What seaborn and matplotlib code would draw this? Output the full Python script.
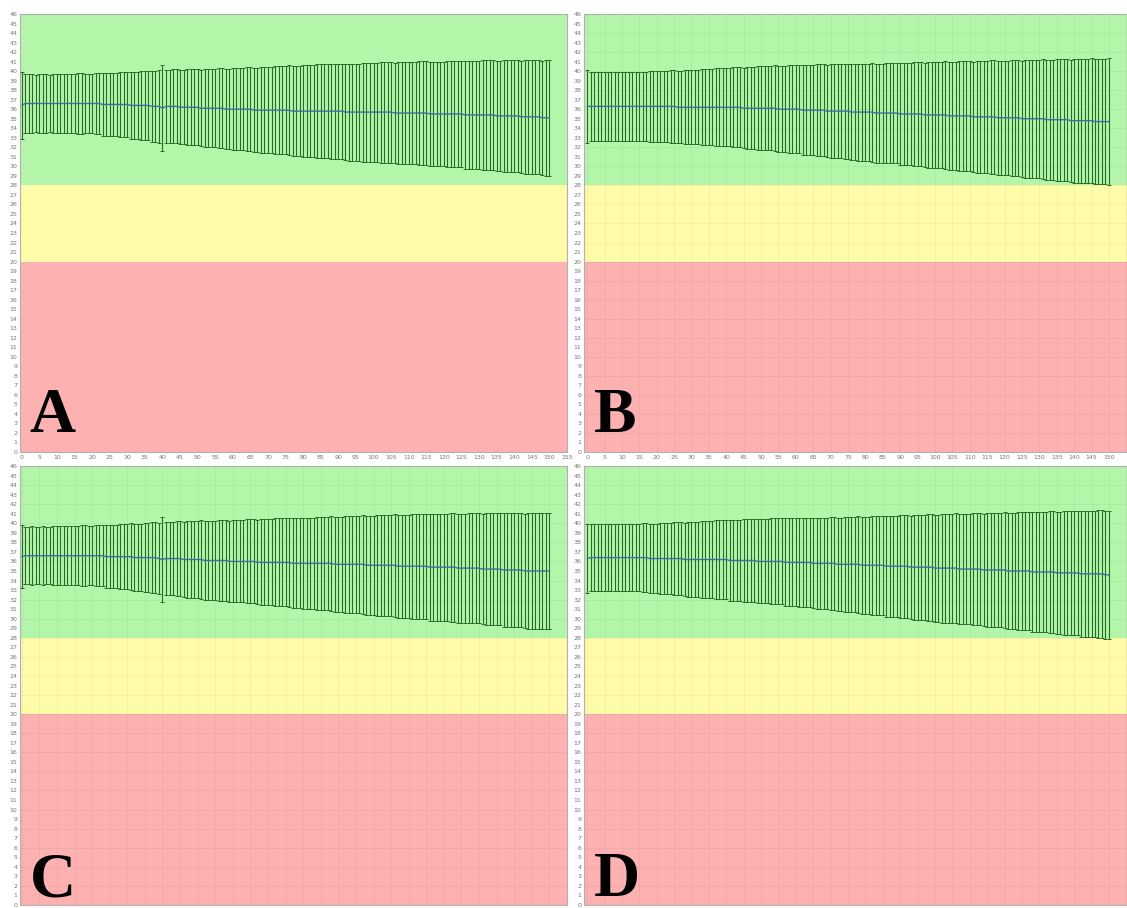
import numpy as np
import matplotlib
matplotlib.use("Agg")
import matplotlib.pyplot as plt
import seaborn as sns

# x positions of the bars (one per unit, 0..150)
x_vals = list(range(0, 151))

# ---- panel A: mean and half-width of each bar ----
a_mean = [
    36.4,
    36.6, 36.6, 36.6, 36.6, 36.6, 36.6, 36.6, 36.6, 36.6, 36.6,
    36.6, 36.6, 36.6, 36.6, 36.6, 36.6, 36.6, 36.6, 36.6, 36.6,
    36.6, 36.6, 36.5, 36.5, 36.5, 36.5, 36.5, 36.5, 36.5, 36.5,
    36.4, 36.4, 36.4, 36.4, 36.4, 36.4, 36.3, 36.3, 36.3, 36.1,
    36.3, 36.3, 36.3, 36.3, 36.2, 36.2, 36.2, 36.2, 36.2, 36.2,
    36.1, 36.1, 36.1, 36.1, 36.1, 36.1, 36.1, 36.0, 36.0, 36.0,
    36.0, 36.0, 36.0, 36.0, 36.0, 35.9, 35.9, 35.9, 35.9, 35.9,
    35.9, 35.9, 35.9, 35.9, 35.9, 35.9, 35.8, 35.8, 35.8, 35.8,
    35.8, 35.8, 35.8, 35.8, 35.8, 35.8, 35.8, 35.8, 35.8, 35.8,
    35.8, 35.7, 35.7, 35.7, 35.7, 35.7, 35.7, 35.7, 35.7, 35.7,
    35.7, 35.7, 35.7, 35.7, 35.7, 35.6, 35.6, 35.6, 35.6, 35.6,
    35.6, 35.6, 35.6, 35.6, 35.6, 35.5, 35.5, 35.5, 35.5, 35.5,
    35.5, 35.5, 35.5, 35.5, 35.5, 35.4, 35.4, 35.4, 35.4, 35.4,
    35.4, 35.4, 35.4, 35.4, 35.3, 35.3, 35.3, 35.3, 35.3, 35.3,
    35.3, 35.2, 35.2, 35.2, 35.2, 35.2, 35.2, 35.1, 35.1, 35.1,
]
a_sd = [
    3.5,
    3.1, 3.1, 3.1, 3.0, 3.1, 3.1, 3.1, 3.0, 3.1, 3.1,
    3.1, 3.1, 3.1, 3.1, 3.1, 3.2, 3.2, 3.1, 3.1, 3.1,
    3.2, 3.2, 3.3, 3.3, 3.3, 3.3, 3.3, 3.4, 3.4, 3.4,
    3.5, 3.5, 3.5, 3.6, 3.6, 3.6, 3.7, 3.7, 3.8, 4.5,
    3.8, 3.8, 3.9, 3.9, 3.9, 3.9, 4.0, 4.0, 4.0, 4.0,
    4.0, 4.1, 4.1, 4.1, 4.1, 4.2, 4.2, 4.2, 4.2, 4.3,
    4.3, 4.3, 4.3, 4.4, 4.4, 4.4, 4.4, 4.5, 4.5, 4.5,
    4.5, 4.6, 4.6, 4.6, 4.6, 4.7, 4.7, 4.7, 4.7, 4.8,
    4.8, 4.8, 4.8, 4.9, 4.9, 4.9, 4.9, 5.0, 5.0, 5.0,
    5.0, 5.0, 5.1, 5.1, 5.1, 5.1, 5.2, 5.2, 5.2, 5.2,
    5.2, 5.3, 5.3, 5.3, 5.3, 5.3, 5.4, 5.4, 5.4, 5.4,
    5.4, 5.4, 5.5, 5.5, 5.5, 5.5, 5.5, 5.5, 5.5, 5.5,
    5.6, 5.6, 5.6, 5.6, 5.6, 5.7, 5.7, 5.7, 5.7, 5.7,
    5.8, 5.8, 5.8, 5.8, 5.8, 5.8, 5.9, 5.9, 5.9, 5.9,
    5.9, 5.9, 6.0, 6.0, 6.0, 6.0, 6.0, 6.0, 6.1, 6.1,
]

# ---- panel B ----
b_mean = [
    36.3,
    36.3, 36.3, 36.3, 36.3, 36.3, 36.3, 36.3, 36.3, 36.3, 36.3,
    36.3, 36.3, 36.3, 36.3, 36.3, 36.3, 36.3, 36.3, 36.3, 36.3,
    36.3, 36.3, 36.3, 36.3, 36.3, 36.2, 36.2, 36.2, 36.2, 36.2,
    36.2, 36.2, 36.2, 36.2, 36.2, 36.2, 36.2, 36.2, 36.2, 36.2,
    36.2, 36.2, 36.2, 36.2, 36.1, 36.1, 36.1, 36.1, 36.1, 36.1,
    36.1, 36.1, 36.1, 36.1, 36.0, 36.0, 36.0, 36.0, 36.0, 36.0,
    36.0, 35.9, 35.9, 35.9, 35.9, 35.9, 35.9, 35.9, 35.8, 35.8,
    35.8, 35.8, 35.8, 35.8, 35.8, 35.7, 35.7, 35.7, 35.7, 35.7,
    35.7, 35.7, 35.6, 35.6, 35.6, 35.6, 35.6, 35.6, 35.6, 35.5,
    35.5, 35.5, 35.5, 35.5, 35.5, 35.5, 35.4, 35.4, 35.4, 35.4,
    35.4, 35.4, 35.4, 35.3, 35.3, 35.3, 35.3, 35.3, 35.3, 35.3,
    35.2, 35.2, 35.2, 35.2, 35.2, 35.2, 35.2, 35.1, 35.1, 35.1,
    35.1, 35.1, 35.1, 35.1, 35.0, 35.0, 35.0, 35.0, 35.0, 35.0,
    35.0, 34.9, 34.9, 34.9, 34.9, 34.9, 34.9, 34.9, 34.8, 34.8,
    34.8, 34.8, 34.8, 34.8, 34.8, 34.7, 34.7, 34.7, 34.7, 34.7,
]
b_sd = [
    3.8,
    3.6, 3.6, 3.6, 3.6, 3.6, 3.6, 3.6, 3.6, 3.6, 3.6,
    3.6, 3.6, 3.6, 3.6, 3.6, 3.6, 3.6, 3.7, 3.7, 3.7,
    3.7, 3.7, 3.7, 3.8, 3.8, 3.8, 3.8, 3.9, 3.9, 3.9,
    3.9, 3.9, 4.0, 4.0, 4.0, 4.0, 4.1, 4.1, 4.1, 4.1,
    4.1, 4.2, 4.2, 4.2, 4.2, 4.3, 4.3, 4.3, 4.4, 4.4,
    4.4, 4.4, 4.4, 4.5, 4.5, 4.5, 4.5, 4.6, 4.6, 4.6,
    4.6, 4.7, 4.7, 4.7, 4.7, 4.8, 4.8, 4.8, 4.8, 4.9,
    4.9, 4.9, 4.9, 5.0, 5.0, 5.0, 5.0, 5.1, 5.1, 5.1,
    5.1, 5.2, 5.2, 5.2, 5.2, 5.3, 5.3, 5.3, 5.3, 5.4,
    5.4, 5.4, 5.4, 5.5, 5.5, 5.5, 5.5, 5.6, 5.6, 5.6,
    5.6, 5.6, 5.7, 5.7, 5.7, 5.7, 5.8, 5.8, 5.8, 5.8,
    5.8, 5.9, 5.9, 5.9, 5.9, 6.0, 6.0, 6.0, 6.0, 6.0,
    6.0, 6.1, 6.1, 6.1, 6.1, 6.2, 6.2, 6.2, 6.2, 6.2,
    6.3, 6.3, 6.3, 6.3, 6.4, 6.4, 6.4, 6.4, 6.4, 6.5,
    6.5, 6.5, 6.5, 6.5, 6.6, 6.6, 6.6, 6.6, 6.6, 6.7,
]

# ---- panel C ----
c_mean = [
    36.5,
    36.6, 36.6, 36.6, 36.6, 36.6, 36.6, 36.6, 36.6, 36.6, 36.6,
    36.6, 36.6, 36.6, 36.6, 36.6, 36.6, 36.6, 36.6, 36.6, 36.6,
    36.6, 36.6, 36.6, 36.5, 36.5, 36.5, 36.5, 36.5, 36.5, 36.5,
    36.5, 36.4, 36.4, 36.4, 36.4, 36.4, 36.4, 36.4, 36.3, 36.2,
    36.3, 36.3, 36.3, 36.3, 36.3, 36.2, 36.2, 36.2, 36.2, 36.2,
    36.2, 36.1, 36.1, 36.1, 36.1, 36.1, 36.1, 36.1, 36.0, 36.0,
    36.0, 36.0, 36.0, 36.0, 36.0, 36.0, 35.9, 35.9, 35.9, 35.9,
    35.9, 35.9, 35.9, 35.9, 35.9, 35.9, 35.8, 35.8, 35.8, 35.8,
    35.8, 35.8, 35.8, 35.8, 35.8, 35.8, 35.8, 35.8, 35.7, 35.7,
    35.7, 35.7, 35.7, 35.7, 35.7, 35.7, 35.7, 35.6, 35.6, 35.6,
    35.6, 35.6, 35.6, 35.6, 35.6, 35.6, 35.5, 35.5, 35.5, 35.5,
    35.5, 35.5, 35.5, 35.5, 35.5, 35.4, 35.4, 35.4, 35.4, 35.4,
    35.4, 35.4, 35.4, 35.3, 35.3, 35.3, 35.3, 35.3, 35.3, 35.3,
    35.2, 35.2, 35.2, 35.2, 35.2, 35.2, 35.1, 35.1, 35.1, 35.1,
    35.1, 35.1, 35.0, 35.0, 35.0, 35.0, 35.0, 35.0, 35.0, 35.0,
]
c_sd = [
    3.3,
    3.0, 3.0, 3.1, 3.0, 3.0, 3.1, 3.0, 3.0, 3.1, 3.1,
    3.1, 3.1, 3.1, 3.1, 3.1, 3.1, 3.2, 3.2, 3.1, 3.1,
    3.2, 3.2, 3.2, 3.3, 3.3, 3.3, 3.3, 3.4, 3.4, 3.4,
    3.5, 3.5, 3.5, 3.5, 3.6, 3.6, 3.7, 3.7, 3.7, 4.5,
    3.8, 3.8, 3.8, 3.9, 3.9, 3.9, 4.0, 4.0, 4.0, 4.0,
    4.1, 4.1, 4.1, 4.1, 4.1, 4.2, 4.2, 4.2, 4.2, 4.3,
    4.3, 4.3, 4.3, 4.4, 4.4, 4.4, 4.4, 4.5, 4.5, 4.5,
    4.5, 4.6, 4.6, 4.6, 4.6, 4.7, 4.7, 4.7, 4.7, 4.8,
    4.8, 4.8, 4.8, 4.9, 4.9, 4.9, 4.9, 5.0, 5.0, 5.0,
    5.0, 5.1, 5.1, 5.1, 5.1, 5.1, 5.2, 5.2, 5.2, 5.2,
    5.3, 5.3, 5.3, 5.3, 5.3, 5.4, 5.4, 5.4, 5.4, 5.4,
    5.5, 5.5, 5.5, 5.5, 5.5, 5.6, 5.6, 5.6, 5.6, 5.6,
    5.6, 5.7, 5.7, 5.7, 5.7, 5.7, 5.8, 5.8, 5.8, 5.8,
    5.8, 5.9, 5.9, 5.9, 5.9, 5.9, 6.0, 6.0, 6.0, 6.0,
    6.0, 6.0, 6.0, 6.1, 6.1, 6.1, 6.1, 6.1, 6.1, 6.1,
]

# ---- panel D ----
d_mean = [
    36.3,
    36.4, 36.4, 36.4, 36.4, 36.4, 36.4, 36.4, 36.4, 36.4, 36.4,
    36.4, 36.4, 36.4, 36.4, 36.4, 36.4, 36.4, 36.3, 36.3, 36.3,
    36.3, 36.3, 36.3, 36.3, 36.3, 36.3, 36.3, 36.2, 36.2, 36.2,
    36.2, 36.2, 36.2, 36.2, 36.2, 36.2, 36.2, 36.2, 36.2, 36.2,
    36.1, 36.1, 36.1, 36.1, 36.1, 36.1, 36.1, 36.1, 36.0, 36.0,
    36.0, 36.0, 36.0, 36.0, 36.0, 36.0, 35.9, 35.9, 35.9, 35.9,
    35.9, 35.9, 35.9, 35.9, 35.8, 35.8, 35.8, 35.8, 35.8, 35.8,
    35.8, 35.7, 35.7, 35.7, 35.7, 35.7, 35.7, 35.7, 35.6, 35.6,
    35.6, 35.6, 35.6, 35.6, 35.6, 35.5, 35.5, 35.5, 35.5, 35.5,
    35.5, 35.5, 35.4, 35.4, 35.4, 35.4, 35.4, 35.4, 35.4, 35.3,
    35.3, 35.3, 35.3, 35.3, 35.3, 35.3, 35.2, 35.2, 35.2, 35.2,
    35.2, 35.2, 35.2, 35.1, 35.1, 35.1, 35.1, 35.1, 35.1, 35.1,
    35.0, 35.0, 35.0, 35.0, 35.0, 35.0, 35.0, 34.9, 34.9, 34.9,
    34.9, 34.9, 34.9, 34.9, 34.8, 34.8, 34.8, 34.8, 34.8, 34.8,
    34.8, 34.7, 34.7, 34.7, 34.7, 34.7, 34.7, 34.7, 34.6, 34.6,
]
d_sd = [
    3.6,
    3.5, 3.5, 3.5, 3.5, 3.5, 3.5, 3.5, 3.5, 3.5, 3.5,
    3.5, 3.5, 3.5, 3.5, 3.5, 3.6, 3.6, 3.6, 3.6, 3.6,
    3.7, 3.7, 3.7, 3.7, 3.8, 3.8, 3.8, 3.8, 3.9, 3.9,
    3.9, 3.9, 4.0, 4.0, 4.0, 4.0, 4.1, 4.1, 4.1, 4.1,
    4.2, 4.2, 4.2, 4.2, 4.3, 4.3, 4.3, 4.3, 4.4, 4.4,
    4.4, 4.4, 4.5, 4.5, 4.5, 4.5, 4.6, 4.6, 4.6, 4.6,
    4.7, 4.7, 4.7, 4.7, 4.7, 4.8, 4.8, 4.8, 4.8, 4.9,
    4.9, 4.9, 4.9, 5.0, 5.0, 5.0, 5.0, 5.1, 5.1, 5.1,
    5.1, 5.2, 5.2, 5.2, 5.2, 5.3, 5.3, 5.3, 5.3, 5.4,
    5.4, 5.4, 5.4, 5.5, 5.5, 5.5, 5.5, 5.6, 5.6, 5.6,
    5.6, 5.7, 5.7, 5.7, 5.7, 5.8, 5.8, 5.8, 5.8, 5.8,
    5.9, 5.9, 5.9, 5.9, 6.0, 6.0, 6.0, 6.0, 6.0, 6.1,
    6.1, 6.1, 6.1, 6.2, 6.2, 6.2, 6.2, 6.3, 6.3, 6.3,
    6.3, 6.3, 6.4, 6.4, 6.4, 6.4, 6.5, 6.5, 6.5, 6.5,
    6.5, 6.6, 6.6, 6.6, 6.6, 6.6, 6.7, 6.7, 6.7, 6.7,
]

panel_letters = ["A", "B", "C", "D"]
y_ticks = list(range(0, 47))
x_ticks_left = list(range(0, 156, 5))
x_ticks_right = list(range(0, 151, 5))

sns.set_style("white")
plt.rcParams["font.family"] = ["DejaVu Sans"]

W, H = 1127, 908
fig = plt.figure(figsize=(W / 100, H / 100), dpi=100)


def px_axes(left, top, right, bottom):
    return fig.add_axes([left / W, 1 - bottom / H, (right - left) / W, (bottom - top) / H])


def draw_panel(ax, mean, sd, letter, xlim, xticks, grid, show_xlabels, letter_y):
    mean = np.array(mean)
    sd = np.array(sd)
    ax.axhspan(28, 46, color="#b3f5a9", lw=0, zorder=0)
    ax.axhspan(20, 28, color="#fefba9", lw=0, zorder=0)
    ax.axhspan(0, 20, color="#fdb1b1", lw=0, zorder=0)
    if grid:
        for xv in range(0, 156, 5):
            ax.axvline(xv, color="black", alpha=0.04, lw=0.7, zorder=0.5)
        for yv in range(0, 47, 2):
            ax.axhline(yv, color="black", alpha=0.04, lw=0.7, zorder=0.5)
    ax.errorbar(x_vals, mean, yerr=sd, fmt="none", ecolor="#286a28",
                elinewidth=0.8, capsize=1.3, capthick=0.7, zorder=3)
    sns.lineplot(x=x_vals, y=mean, ax=ax, color="#3d6fa3", linewidth=1.0, zorder=4)
    ax.set_xlim(*xlim)
    ax.set_ylim(0, 46)
    ax.set_yticks(y_ticks)
    ax.set_xticks(xticks)
    ax.tick_params(axis="both", length=0, labelsize=4.5, labelcolor="#777777", pad=2)
    if not show_xlabels:
        ax.set_xticklabels([])
    ax.set_xlabel("")
    ax.set_ylabel("")
    for sp in ax.spines.values():
        sp.set_color("#b0b0b0")
        sp.set_linewidth(0.8)
    ax.text(0.018, letter_y, letter, transform=ax.transAxes, fontsize=46,
            fontweight="bold", family="Liberation Serif", color="black",
            ha="left", va="baseline", zorder=5)


ax_a = px_axes(20, 14, 567, 452)
ax_b = px_axes(584, 14, 1127, 452)
ax_c = px_axes(20, 466, 567, 905)
ax_d = px_axes(584, 466, 1127, 905)

draw_panel(ax_a, a_mean, a_sd, panel_letters[0], (-0.5, 155), x_ticks_left, False, True, 0.045)
draw_panel(ax_b, b_mean, b_sd, panel_letters[1], (-0.9, 155.2), x_ticks_right, True, True, 0.045)
draw_panel(ax_c, c_mean, c_sd, panel_letters[2], (-0.5, 155), x_ticks_left, True, False, 0.02)
draw_panel(ax_d, d_mean, d_sd, panel_letters[3], (-0.9, 155.2), x_ticks_right, True, False, 0.02)

fig.savefig("out.png", dpi=100)
